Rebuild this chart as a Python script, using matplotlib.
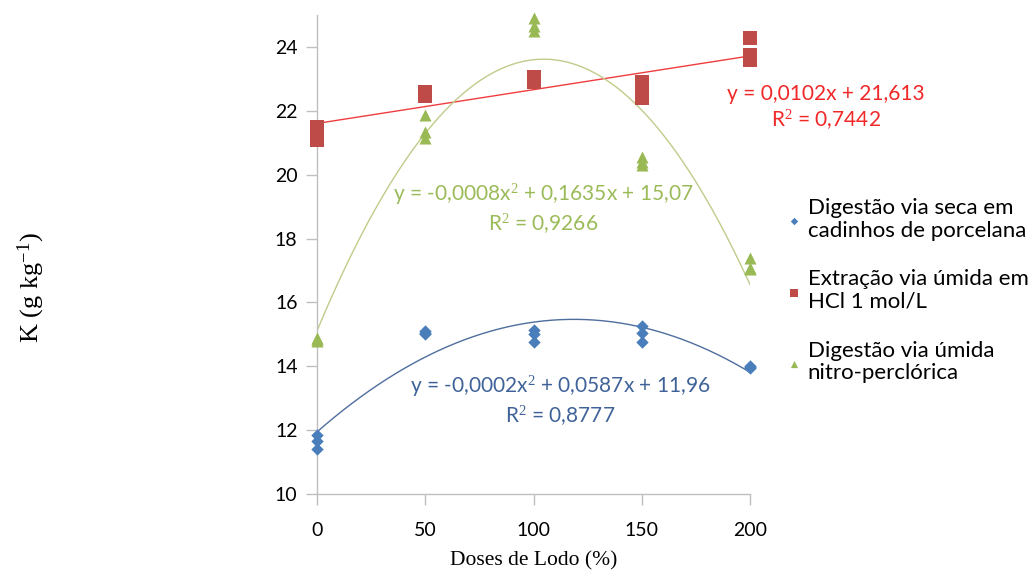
import numpy as np
import matplotlib
matplotlib.use("Agg")
import matplotlib.pyplot as plt

plt.rcParams['mathtext.fontset'] = 'custom'
plt.rcParams['mathtext.rm'] = 'Liberation Serif'
plt.rcParams['mathtext.it'] = 'Liberation Serif:italic'

# Data
x_seca = [0, 0, 0, 50, 50, 50, 100, 100, 100, 150, 150, 150, 200, 200, 200]
y_seca = [11.85, 11.65, 11.4, 15.1, 15.0, 15.05, 15.15, 15.0, 14.75, 15.25, 15.05, 14.75, 14.02, 13.95, 13.98]

x_hcl = [0, 0, 0, 50, 50, 50, 100, 100, 100, 150, 150, 150, 200, 200, 200]
y_hcl = [21.5, 21.3, 21.1, 22.6, 22.45, 22.5, 23.05, 22.9, 22.95, 22.9, 22.65, 22.4, 24.28, 23.75, 23.6]

x_nitro = [0, 0, 0, 50, 50, 50, 100, 100, 100, 150, 150, 150, 200, 200, 200]
y_nitro = [14.9, 14.8, 14.85, 21.87, 21.34, 21.15, 24.9, 24.65, 24.5, 20.55, 20.4, 20.3, 17.4, 17.08, 17.05]

legend_labels = ["Digestão via seca em\ncadinhos de porcelana",
                 "Extração via úmida em\nHCl 1 mol/L",
                 "Digestão via úmida\nnitro-perclórica"]
eq_seca = "y = -0,0002x$^2$ + 0,0587x + 11,96\nR$^2$ = 0,8777"
eq_hcl = "y = 0,0102x + 21,613\nR$^2$ = 0,7442"
eq_nitro = "y = -0,0008x$^2$ + 0,1635x + 15,07\nR$^2$ = 0,9266"
x_ticks = [0, 50, 100, 150, 200]
y_ticks = [10, 12, 14, 16, 18, 20, 22, 24]

c_blue = '#4A7EBB'
c_red = '#BE4B48'
c_green = '#98B954'

fig = plt.figure(figsize=(10.35, 5.84), dpi=100)
ax = fig.add_axes([0.3063, 0.1541, 0.4184, 0.8202])

ax.set_xlim(0, 200)
ax.set_ylim(10, 25)

xx = np.linspace(0, 200, 300)
p1 = np.polyfit(x_seca, y_seca, 2)
p2 = np.polyfit(x_hcl, y_hcl, 1)
p3 = np.polyfit(x_nitro, y_nitro, 2)
ax.plot(xx, np.polyval(p1, xx), color='#4E6E9E', lw=1.0, zorder=2)
ax.plot(xx, np.polyval(p2, xx), color='#F03C3C', lw=1.0, zorder=2)
ax.plot(xx, np.polyval(p3, xx), color='#BFCC8A', lw=1.0, zorder=2)

h1 = ax.scatter(x_seca, y_seca, marker='D', s=40, color=c_blue, clip_on=False, zorder=3, linewidths=0)
h2 = ax.scatter(x_hcl, y_hcl, marker='s', s=95, color=c_red, clip_on=False, zorder=3, linewidths=0)
h3 = ax.scatter(x_nitro, y_nitro, marker='^', s=75, color=c_green, clip_on=False, zorder=3, linewidths=0)

tfont = 'Lato'
eq_kw = dict(fontsize=15, ha='center', va='center', family=tfont, linespacing=1.25, zorder=4)
ax.text(112.2, 12.91, eq_seca, color='#3F6399', **eq_kw)
ax.text(235, 22.09, eq_hcl, color='#F02828', **eq_kw)
ax.text(104.4, 18.93, eq_nitro, color='#9BBB59', **eq_kw)

for s in ['top', 'right']:
    ax.spines[s].set_visible(False)
for s in ['left', 'bottom']:
    ax.spines[s].set_color('#BFBFBF')
    ax.spines[s].set_linewidth(1.0)
ax.set_xticks(x_ticks)
ax.set_yticks(y_ticks)
ax.tick_params(axis='both', direction='out', length=8, width=1.0, color='#BFBFBF',
               labelsize=14, labelcolor='#000000', pad=6)
for lab in ax.get_xticklabels() + ax.get_yticklabels():
    lab.set_family(tfont)
ax.tick_params(axis='x', pad=12)

ax.set_xlabel("Doses de Lodo (%)", family='Liberation Serif', fontsize=15.5, labelpad=9)
fig.text(0.030, 0.507, "K (g kg$^{-1}$)", family='Liberation Serif', fontsize=19,
         rotation=90, ha='center', va='center')

leg = fig.legend([h1, h2, h3], legend_labels, loc='upper left', bbox_to_anchor=(0.747, 0.676),
                 frameon=False, prop={'family': tfont, 'size': 16}, handletextpad=0.05,
                 labelspacing=1.3, handlelength=1.1, markerscale=0.6, borderaxespad=0)
for t in leg.get_texts():
    t.set_linespacing(1.15)

fig.savefig("out.png", dpi=100)
